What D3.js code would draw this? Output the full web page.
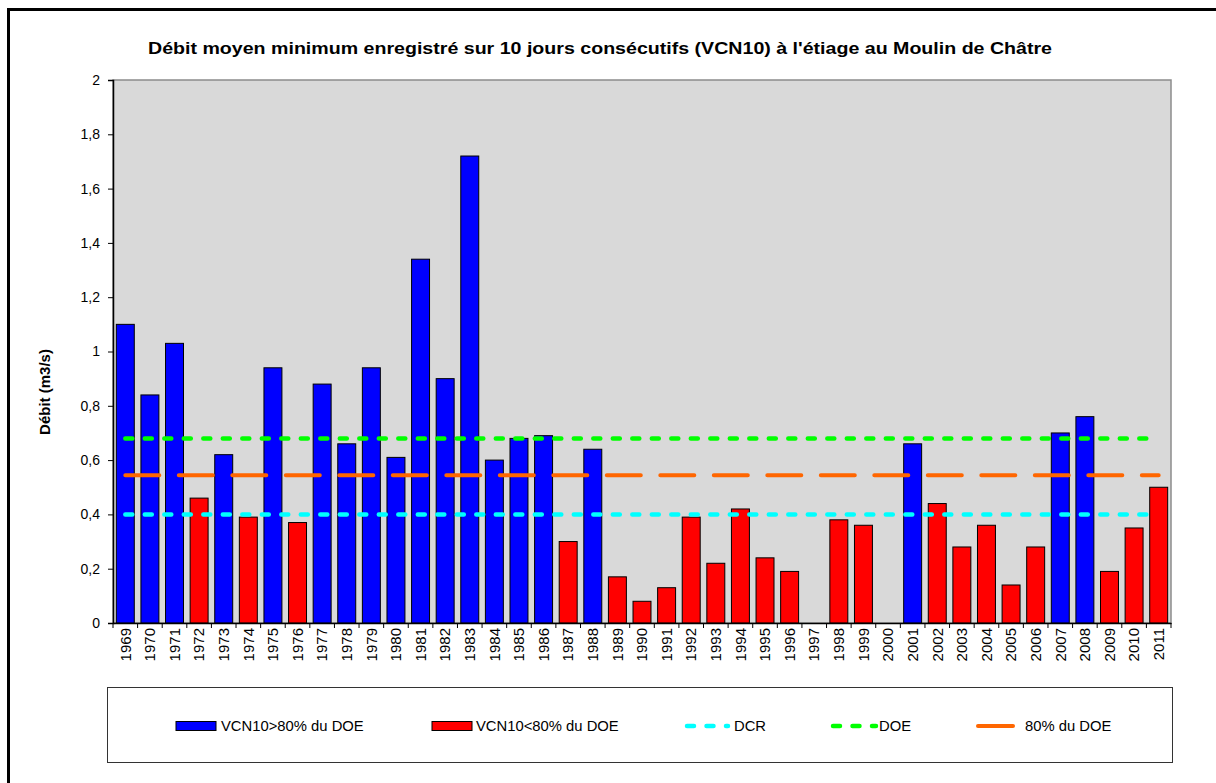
<!DOCTYPE html>
<html>
<head>
<meta charset="UTF-8">
<title>VCN10 Moulin de Châtre</title>
<script src="https://d3js.org/d3.v7.min.js"></script>
<style>
  body { margin: 0; background: #fff; }
  svg { display: block; font-family: "Liberation Sans", Arial, sans-serif; }
</style>
</head>
<body>
<svg id="chart" width="1216" height="783"></svg>
<script>
// data
var years = ["1969","1970","1971","1972","1973","1974","1975","1976","1977","1978","1979","1980","1981","1982","1983","1984","1985","1986","1987","1988","1989","1990","1991","1992","1993","1994","1995","1996","1997","1998","1999","2000","2001","2002","2003","2004","2005","2006","2007","2008","2009","2010","2011"];
var vcn10 = [1.10,0.84,1.03,0.46,0.62,0.39,0.94,0.37,0.88,0.66,0.94,0.61,1.34,0.90,1.72,0.60,0.68,0.69,0.30,0.64,0.17,0.08,0.13,0.39,0.22,0.42,0.24,0.19,null,0.38,0.36,null,0.66,0.44,0.28,0.36,0.14,0.28,0.70,0.76,0.19,0.35,0.50];
var doe = 0.68;
var dcr = 0.40;
var doe80 = 0.544;
var yTicks = [0,0.2,0.4,0.6,0.8,1,1.2,1.4,1.6,1.8,2];
var legendLabels = ["VCN10>80% du DOE","VCN10<80% du DOE","DCR","DOE","80% du DOE"];

var svg = d3.select("#chart");
var margin = {top: 80, right: 45, bottom: 160, left: 113};
var width = 1216, height = 783;

// outer frame (only left/top visible)
svg.append("rect").attr("x",8.5).attr("y",9.5).attr("width",1400).attr("height",1000)
  .attr("fill","none").attr("stroke","#000").attr("stroke-width",3);

var x = d3.scaleBand().domain(years).range([margin.left, width - margin.right]).paddingInner(0.27).paddingOuter(0.135);
var y = d3.scaleLinear().domain([0,2]).range([height - margin.bottom, margin.top]);

// plot area
svg.append("rect").attr("x",margin.left).attr("y",margin.top)
  .attr("width",width - margin.right - margin.left).attr("height",y(0) - margin.top)
  .attr("fill","#d9d9d9").attr("stroke","#8c8c8c").attr("stroke-width",1.5);

svg.append("text").attr("x",600).attr("y",54).attr("text-anchor","middle")
  .attr("textLength",904).attr("lengthAdjust","spacingAndGlyphs")
  .style("font-weight","bold").style("font-size","17px")
  .text("Débit moyen minimum enregistré sur 10 jours consécutifs (VCN10) à l'étiage au Moulin de Châtre");

svg.append("text").attr("transform","translate(50,392) rotate(-90)").attr("text-anchor","middle")
  .style("font-weight","bold").style("font-size","15px").text("Débit (m3/s)");

// bars
var bars = years.map(function(yr, i){ return {year: yr, v: vcn10[i]}; }).filter(function(d){ return d.v != null; });
svg.append("g").selectAll("rect").data(bars).join("rect")
  .attr("x", function(d){ return x(d.year); })
  .attr("width", x.bandwidth())
  .attr("y", function(d){ return y(d.v); })
  .attr("height", function(d){ return y(0) - y(d.v); })
  .attr("fill", function(d){ return d.v > doe80 ? "#0000ff" : "#ff0000"; })
  .attr("stroke","#000").attr("stroke-width",1);

// reference lines, from first to last category centre
var x1 = x(years[0]) + x.bandwidth()/2, x2 = x(years[years.length-1]) + x.bandwidth()/2;
var refs = [
  {v: dcr, color: "#00ffff", dash: "7,12.5", w: 4.5},
  {v: doe, color: "#00ff00", dash: "7,12.5", w: 4.5},
  {v: doe80, color: "#ff6600", dash: "34,19.5", w: 4}
];
refs.forEach(function(r){
  svg.append("line").attr("x1",x1).attr("x2",x2).attr("y1",y(r.v)).attr("y2",y(r.v))
    .attr("stroke",r.color).attr("stroke-width",r.w).attr("stroke-dasharray",r.dash)
    .attr("stroke-linecap","round");
});

// y axis
var fr = d3.formatLocale({decimal: ",", thousands: " ", grouping: [3], currency: ["","€"]});
var yAxis = d3.axisLeft(y).tickValues(yTicks).tickFormat(fr.format(".1~f")).tickSize(5).tickPadding(8);
var yg = svg.append("g").attr("transform","translate(" + margin.left + ",0)").call(yAxis);
yg.select(".domain").attr("stroke","#000").attr("stroke-width",1.5);
yg.selectAll("text").style("font-size","14px").attr("fill","#000");

// x axis: ticks between categories
var xAxis = d3.axisBottom(x).tickSize(0).tickPadding(6);
var xg = svg.append("g").attr("transform","translate(0," + y(0) + ")").call(xAxis);
xg.select(".domain").attr("stroke","#000").attr("stroke-width",1.5);
xg.selectAll(".tick text").style("font-size","15px").attr("fill","#000")
  .attr("text-anchor","end").attr("transform","rotate(-90)")
  .attr("x",-5).attr("y",0).attr("dy","0.35em");
var step = x.step();
var bounds = d3.range(years.length + 1).map(function(i){ return margin.left + i*step; });
xg.selectAll("line.bound").data(bounds).join("line").attr("class","bound")
  .attr("x1",function(d){ return d; }).attr("x2",function(d){ return d; })
  .attr("y1",0).attr("y2",5).attr("stroke","#000");

// legend
var lg = svg.append("g");
lg.append("rect").attr("x",107.5).attr("y",687.5).attr("width",1065).attr("height",75)
  .attr("fill","#fff").attr("stroke","#333");
var ly = 726;
var items = [
  {kind:"bar", color:"#0000ff", sx:176, tx:221},
  {kind:"bar", color:"#ff0000", sx:432, tx:476},
  {kind:"line", color:"#00ffff", dash:"7,12.5", w:4.5, sx:687, ex:728, tx:734},
  {kind:"line", color:"#00ff00", dash:"7,12.5", w:4.5, sx:833, ex:876, tx:879},
  {kind:"line", color:"#ff6600", dash:"", w:4, sx:978, ex:1013, tx:1025}
];
items.forEach(function(it, i){
  if (it.kind == "bar") {
    lg.append("rect").attr("x",it.sx).attr("y",ly-4.5).attr("width",40).attr("height",9)
      .attr("fill",it.color).attr("stroke","#000").attr("stroke-width",1);
  } else {
    lg.append("line").attr("x1",it.sx).attr("x2",it.ex).attr("y1",ly).attr("y2",ly)
      .attr("stroke",it.color).attr("stroke-width",it.w).attr("stroke-linecap","round")
      .attr("stroke-dasharray",it.dash || null);
  }
  lg.append("text").attr("x",it.tx).attr("y",ly).attr("dy","0.35em")
    .style("font-size","14.8px").text(legendLabels[i]);
});
</script>
</body>
</html>
